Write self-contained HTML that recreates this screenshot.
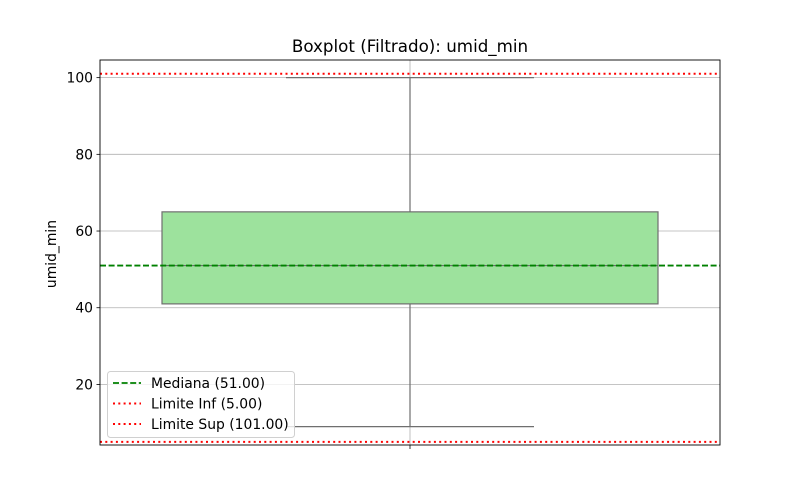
<!DOCTYPE html>
<html><head><meta charset="utf-8"><style>
body{margin:0;background:#fff;}
svg{display:block;font-family:"DejaVu Sans","Liberation Sans",sans-serif;}
</style></head><body>
<svg id="c" width="800" height="500" xmlns="http://www.w3.org/2000/svg"></svg>
<script>
const yTicks=[20,40,60,80,100];
const stats=[9,41,51,65,100]; // whiskerLow, q1, median, q3, whiskerHigh
const refMedian=51.00;
const limInf=5.00;
const limSup=101.00;
const legendLabels=["Mediana (51.00)","Limite Inf (5.00)","Limite Sup (101.00)"];
const yMin=4.2, yMax=104.6;
const L=100,R=720,T=60,B=445;
const y=v=>B-(v-yMin)/(yMax-yMin)*(B-T);
const svg=document.getElementById('c');
const NS='http://www.w3.org/2000/svg';
function mk(tag,attrs,parent){const e=document.createElementNS(NS,tag);for(const k in attrs)e.setAttribute(k,attrs[k]);(parent||svg).appendChild(e);return e;}
const cx=410;
const FS=13.9;
yTicks.forEach(t=>{
 const g=mk('line',{x1:L,x2:R,y1:y(t),y2:y(t),stroke:'#b0b0b0','stroke-width':0.8});
 
 
 const tk=mk('line',{x1:L-3.5,x2:L,y1:y(t),y2:y(t),stroke:'#000','stroke-width':0.8});
 
 
 const tx=mk('text',{x:L-7,y:y(t)+5,'text-anchor':'end','font-size':FS,fill:'#000'});
 tx.textContent=t;
 
 
});
const vg=mk('line',{x1:cx,x2:cx,y1:T,y2:B,stroke:'#b0b0b0','stroke-width':0.8});


const c='#6f6f6f';
const w1=mk('line',{x1:cx,x2:cx,y1:y(stats[0]),y2:y(stats[1]),stroke:c,'stroke-width':1.2});


const w2=mk('line',{x1:cx,x2:cx,y1:y(stats[3]),y2:y(stats[4]),stroke:c,'stroke-width':1.2});


const c1=mk('line',{x1:286,x2:534,y1:y(stats[0]),y2:y(stats[0]),stroke:c,'stroke-width':1.2});


const c2=mk('line',{x1:286,x2:534,y1:y(stats[4]),y2:y(stats[4]),stroke:c,'stroke-width':1.2});


const box=mk('rect',{x:162,y:y(stats[3]),width:496,height:y(stats[1])-y(stats[3]),fill:'#9de29d',stroke:c,'stroke-width':1.2});


const md=mk('line',{x1:162,x2:658,y1:y(stats[2]),y2:y(stats[2]),stroke:c,'stroke-width':1.2});


const rm=mk('line',{x1:L,x2:R,y1:y(refMedian),y2:y(refMedian),stroke:'#008000','stroke-width':1.8,'stroke-dasharray':'6,2.6'});


const ri=mk('line',{x1:L,x2:R,y1:y(limInf),y2:y(limInf),stroke:'#ff0000','stroke-width':2,'stroke-dasharray':'2,3.3'});


const rs=mk('line',{x1:L,x2:R,y1:y(limSup),y2:y(limSup),stroke:'#ff0000','stroke-width':2,'stroke-dasharray':'2,3.3'});


const fr=mk('rect',{x:L,y:T,width:R-L,height:B-T,fill:'none',stroke:'#000','stroke-width':0.9});


const xt=mk('line',{x1:cx,x2:cx,y1:B,y2:B+4,stroke:'#000','stroke-width':0.8});


const ti=mk('text',{x:410,y:52,'text-anchor':'middle','font-size':16.7,fill:'#000'});
ti.textContent='Boxplot (Filtrado): umid_min';


const yl=mk('text',{x:56,y:254,'text-anchor':'middle','font-size':FS,fill:'#000',transform:'rotate(-90 56 254)'});
yl.textContent='umid_min';


const lg=mk('g',{});


mk('rect',{x:107.5,y:371.5,width:187,height:66,rx:3,fill:'#fff','fill-opacity':0.8,stroke:'#d0d0d0','stroke-width':1},lg);
const styles=[{s:'#008000',d:'6,2.6',w:1.8},{s:'#ff0000',d:'2,3.3',w:2},{s:'#ff0000',d:'2,3.3',w:2}];
legendLabels.forEach((lab,i)=>{
 const yy=383+i*20.5;
 const ln=mk('line',{x1:113,x2:141,y1:yy,y2:yy,stroke:styles[i].s,'stroke-width':styles[i].w,'stroke-dasharray':styles[i].d},lg);
 
 
 const t=mk('text',{x:151,y:yy+5,'font-size':FS,fill:'#000'},lg);
 t.textContent=lab;
 
 
});
</script>
</body></html>
